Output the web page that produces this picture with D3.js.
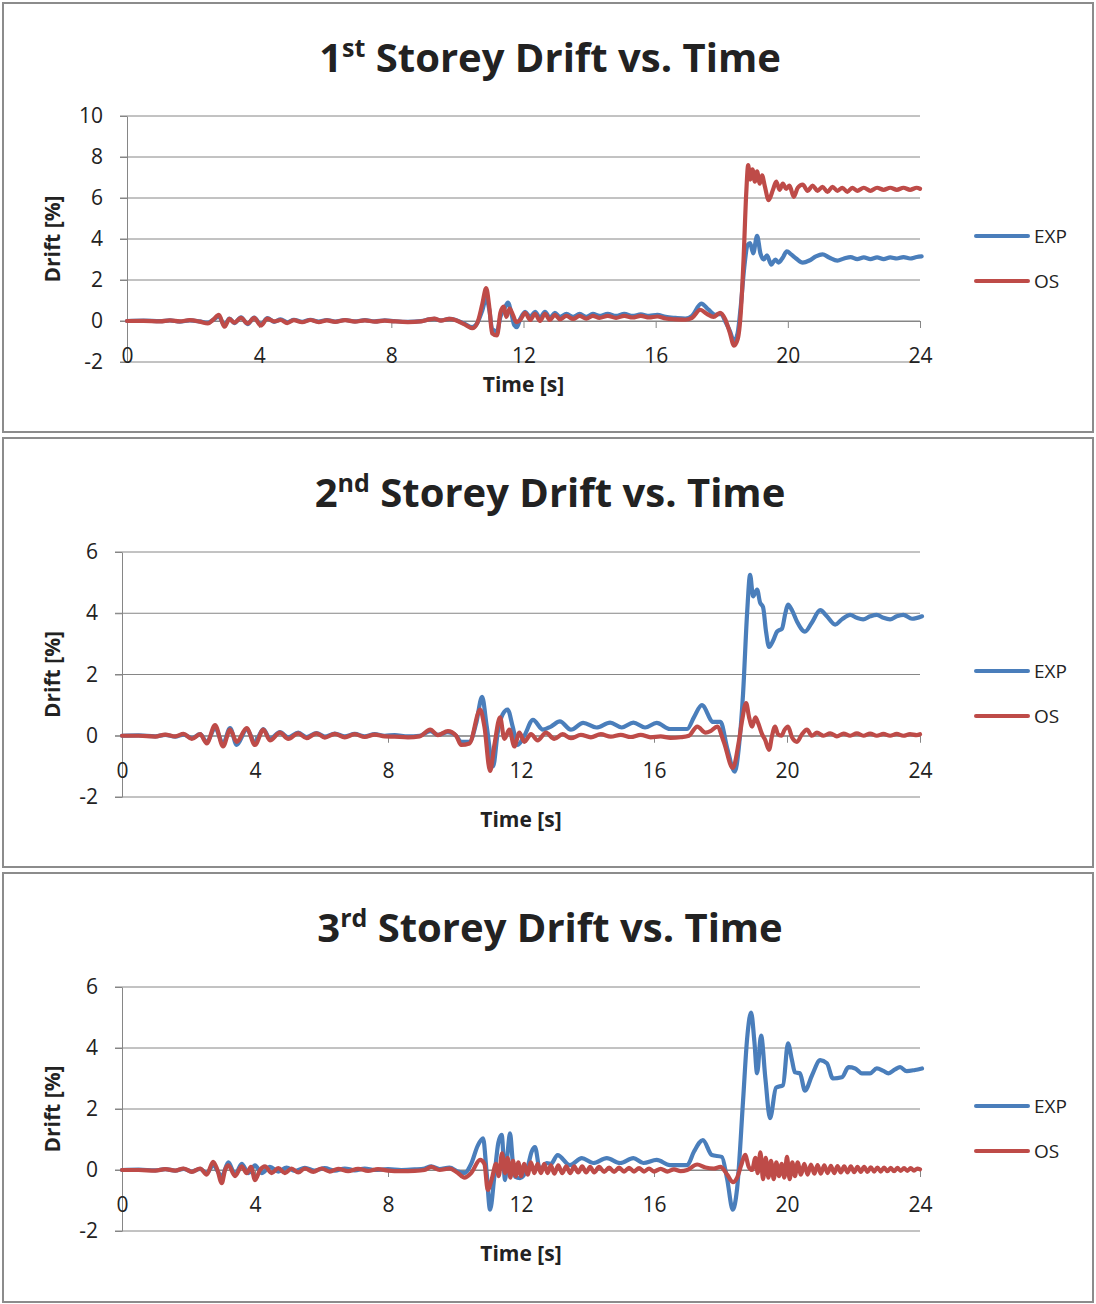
<!DOCTYPE html>
<html>
<head>
<meta charset="utf-8">
<script src="https://cdn.jsdelivr.net/npm/d3@7"></script>
<style>
  body { margin: 0; background: #fff; }
  svg text { font-family: "Open Sans", "Noto Sans", sans-serif; fill: #222; }
</style>
</head>
<body>
<script>
// tick labels and names
const xTicks = [0, 4, 8, 12, 16, 20, 24];
const yTicks1 = [-2, 0, 2, 4, 6, 8, 10];
const yTicks23 = [-2, 0, 2, 4, 6];
const seriesNames = ["EXP", "OS"];
const storeyLabels = [["1", "st"], ["2", "nd"], ["3", "rd"]];

// [time s, drift %]
const exp1 = [[0,0],[0.5,0.02],[1,-0.01],[1.3,0.03],[1.6,-0.03],[1.9,0.03],[2.2,-0.02],[2.45,-0.08],[2.6,0.05],[2.78,0.22],[2.95,-0.2],[3.1,0.12],[3.25,-0.1],[3.45,0.18],[3.65,-0.15],[3.85,0.17],[4.05,-0.18],[4.25,0.14],[4.45,-0.04],[4.65,0.08],[4.85,-0.06],[5.05,0.06],[5.3,-0.04],[5.55,0.06],[5.8,-0.03],[6.05,0.05],[6.3,-0.03],[6.6,0.05],[6.9,-0.02],[7.2,0.04],[7.5,-0.02],[7.8,0.03],[8.1,-0.01],[8.5,-0.04],[8.9,-0.01],[9.15,0.08],[9.3,0.1],[9.5,0.03],[9.75,0.1],[9.95,0.05],[10.2,-0.12],[10.45,-0.3],[10.6,-0.1],[10.75,0.5],[10.87,1.1],[10.97,0.5],[11.05,-0.4],[11.2,-0.5],[11.3,0.2],[11.42,0.6],[11.53,0.9],[11.63,0.4],[11.72,-0.2],[11.8,-0.3],[11.9,0.1],[12.05,0.45],[12.2,0.2],[12.35,0.45],[12.5,0.15],[12.65,0.45],[12.8,0.15],[12.95,0.4],[13.1,0.2],[13.3,0.35],[13.5,0.2],[13.7,0.35],[13.9,0.2],[14.1,0.35],[14.3,0.25],[14.55,0.35],[14.8,0.25],[15.05,0.35],[15.3,0.25],[15.55,0.32],[15.8,0.25],[16.05,0.3],[16.3,0.2],[16.6,0.15],[16.9,0.12],[17.1,0.25],[17.38,0.85],[17.6,0.55],[17.8,0.3],[17.98,0.35],[18.1,0.0],[18.25,-0.5],[18.37,-1.0],[18.48,-0.6],[18.58,0.8],[18.68,2.6],[18.78,3.7],[18.86,3.8],[18.95,3.3],[19.07,4.15],[19.17,3.3],[19.27,3.0],[19.37,3.2],[19.5,2.75],[19.62,3.0],[19.72,2.85],[19.85,3.1],[19.97,3.4],[20.1,3.25],[20.25,3.05],[20.45,2.85],[20.65,2.95],[20.85,3.15],[21.05,3.25],[21.25,3.1],[21.5,2.95],[21.7,3.05],[21.9,3.12],[22.1,3.02],[22.3,3.1],[22.5,3.02],[22.7,3.1],[22.9,3.02],[23.1,3.1],[23.3,3.05],[23.5,3.12],[23.7,3.05],[23.9,3.12],[24.05,3.15]];
const os1 = [[0,0],[0.5,0.01],[1,-0.02],[1.3,0.03],[1.6,-0.02],[1.9,0.04],[2.2,-0.03],[2.45,-0.12],[2.6,0.05],[2.78,0.3],[2.95,-0.28],[3.1,0.1],[3.25,-0.08],[3.45,0.15],[3.65,-0.12],[3.85,0.15],[4.05,-0.22],[4.25,0.12],[4.45,-0.02],[4.65,0.05],[4.85,-0.1],[5.05,0.04],[5.3,-0.06],[5.55,0.05],[5.8,-0.05],[6.05,0.03],[6.3,-0.04],[6.6,0.04],[6.9,-0.03],[7.2,0.03],[7.5,-0.03],[7.8,0.02],[8.1,-0.02],[8.5,-0.05],[8.9,-0.02],[9.15,0.08],[9.3,0.12],[9.5,0.02],[9.75,0.1],[9.95,0.04],[10.2,-0.15],[10.45,-0.35],[10.6,-0.1],[10.75,0.8],[10.87,1.6],[10.97,0.6],[11.05,-0.6],[11.2,-0.7],[11.3,0.4],[11.4,0.7],[11.48,0.2],[11.58,0.6],[11.68,0.3],[11.78,-0.05],[11.9,0.05],[12.05,0.4],[12.2,0.05],[12.35,0.35],[12.5,0.0],[12.65,0.35],[12.8,0.05],[12.95,0.3],[13.1,0.08],[13.3,0.25],[13.5,0.1],[13.7,0.25],[13.9,0.12],[14.1,0.25],[14.3,0.15],[14.55,0.25],[14.8,0.15],[15.05,0.25],[15.3,0.17],[15.55,0.25],[15.8,0.17],[16.05,0.22],[16.3,0.12],[16.6,0.08],[16.9,0.06],[17.1,0.15],[17.35,0.55],[17.55,0.35],[17.75,0.2],[17.95,0.4],[18.1,0.1],[18.25,-0.6],[18.37,-1.2],[18.48,-0.9],[18.58,0.5],[18.66,3.0],[18.74,6.2],[18.8,7.6],[18.86,6.9],[18.93,7.4],[19.0,6.8],[19.07,7.3],[19.15,6.7],[19.22,7.1],[19.3,6.6],[19.42,5.9],[19.55,6.4],[19.65,6.8],[19.75,6.4],[19.85,6.7],[19.95,6.45],[20.05,6.6],[20.18,6.05],[20.3,6.5],[20.45,6.65],[20.6,6.35],[20.75,6.6],[20.9,6.35],[21.05,6.55],[21.2,6.3],[21.35,6.55],[21.5,6.35],[21.65,6.5],[21.8,6.3],[21.95,6.5],[22.1,6.35],[22.3,6.5],[22.5,6.35],[22.7,6.5],[22.9,6.4],[23.1,6.5],[23.3,6.4],[23.5,6.5],[23.7,6.4],[23.9,6.5],[24,6.45]];

const exp2 = [[0,0],[0.5,0.01],[1,-0.02],[1.3,0.03],[1.6,-0.03],[1.85,0.04],[2.1,-0.08],[2.35,0.05],[2.55,-0.2],[2.8,0.25],[3.04,-0.25],[3.25,0.25],[3.45,-0.3],[3.75,0.2],[4.0,-0.2],[4.25,0.22],[4.45,-0.1],[4.75,0.12],[5.0,-0.05],[5.3,0.1],[5.55,-0.04],[5.85,0.09],[6.1,-0.03],[6.4,0.07],[6.7,-0.02],[7.0,0.06],[7.3,-0.02],[7.6,0.05],[7.9,0.0],[8.2,0.02],[8.6,-0.02],[8.95,0.0],[9.27,0.15],[9.5,0.03],[9.8,0.12],[10.05,0.0],[10.2,-0.2],[10.45,-0.2],[10.65,0.4],[10.83,1.27],[10.97,0.3],[11.16,-1.0],[11.3,0.1],[11.45,0.7],[11.6,0.85],[11.75,0.3],[11.9,-0.3],[12.1,0.0],[12.36,0.52],[12.66,0.2],[12.9,0.3],[13.17,0.47],[13.5,0.2],[13.87,0.42],[14.27,0.27],[14.68,0.43],[15.03,0.27],[15.38,0.43],[15.73,0.27],[16.08,0.42],[16.48,0.22],[17.0,0.22],[17.2,0.6],[17.44,1.0],[17.78,0.45],[18.0,0.45],[18.2,-0.4],[18.43,-1.17],[18.55,-0.4],[18.68,1.4],[18.8,4.0],[18.89,5.25],[18.98,4.55],[19.1,4.77],[19.19,4.35],[19.28,4.2],[19.37,3.4],[19.46,2.9],[19.58,3.1],[19.7,3.4],[19.85,3.5],[19.95,4.0],[20.03,4.28],[20.15,4.1],[20.3,3.73],[20.54,3.4],[20.75,3.7],[21.0,4.1],[21.2,3.9],[21.45,3.63],[21.65,3.8],[21.9,3.95],[22.1,3.85],[22.29,3.8],[22.5,3.9],[22.7,3.95],[22.9,3.85],[23.1,3.8],[23.3,3.9],[23.5,3.95],[23.76,3.82],[24.06,3.9]];
const os2 = [[0,0],[0.5,0.0],[1,-0.03],[1.3,0.04],[1.6,-0.02],[1.85,0.06],[2.1,-0.1],[2.35,0.05],[2.55,-0.25],[2.8,0.35],[3.04,-0.35],[3.25,0.2],[3.45,-0.2],[3.75,0.25],[4.0,-0.3],[4.25,0.2],[4.45,-0.15],[4.75,0.1],[5.0,-0.1],[5.3,0.08],[5.55,-0.08],[5.85,0.08],[6.1,-0.06],[6.4,0.06],[6.7,-0.05],[7.0,0.05],[7.3,-0.04],[7.6,0.04],[7.9,-0.02],[8.2,-0.03],[8.6,-0.05],[8.95,-0.02],[9.27,0.2],[9.5,0.02],[9.8,0.15],[10.05,0.0],[10.2,-0.3],[10.45,-0.25],[10.77,0.85],[10.9,0.3],[11.07,-1.15],[11.2,-0.3],[11.37,0.6],[11.5,-0.1],[11.65,0.2],[11.8,-0.35],[11.95,0.1],[12.1,-0.2],[12.3,0.05],[12.5,-0.15],[12.75,0.1],[13.0,-0.1],[13.25,0.05],[13.5,-0.08],[13.8,0.03],[14.1,-0.05],[14.4,0.05],[14.7,-0.03],[15.0,0.03],[15.3,-0.04],[15.6,0.03],[15.9,-0.05],[16.2,-0.02],[16.5,-0.07],[16.8,-0.05],[17.05,0.0],[17.3,0.3],[17.55,0.1],[17.7,0.15],[17.9,0.3],[18.1,-0.2],[18.37,-1.05],[18.55,-0.2],[18.65,0.5],[18.77,1.07],[18.86,0.6],[18.95,0.3],[19.05,0.6],[19.13,0.42],[19.25,0.05],[19.34,-0.13],[19.46,-0.46],[19.55,0.0],[19.64,0.3],[19.73,0.05],[19.83,0.0],[19.93,0.2],[20.03,0.3],[20.15,-0.05],[20.3,-0.2],[20.45,0.05],[20.6,0.2],[20.75,0.0],[20.9,0.1],[21.1,0.0],[21.3,0.08],[21.5,-0.02],[21.7,0.07],[21.9,0.0],[22.1,0.08],[22.3,0.0],[22.5,0.07],[22.7,0.0],[22.9,0.06],[23.1,0.0],[23.3,0.06],[23.5,0.0],[23.7,0.05],[23.9,0.02],[24,0.05]];

const exp3 = [[0,0],[0.5,0.01],[1,-0.01],[1.3,0.03],[1.6,-0.02],[1.85,0.04],[2.1,-0.05],[2.35,0.04],[2.55,-0.1],[2.74,0.15],[3.0,-0.2],[3.2,0.25],[3.4,-0.15],[3.6,0.2],[3.8,-0.1],[4.0,0.15],[4.2,-0.1],[4.45,0.1],[4.7,-0.05],[4.95,0.08],[5.2,-0.03],[5.5,0.07],[5.8,-0.02],[6.1,0.06],[6.4,-0.02],[6.7,0.05],[7.0,-0.01],[7.3,0.05],[7.6,0.0],[8.0,0.03],[8.4,0.0],[8.8,0.02],[9.1,0.05],[9.3,0.12],[9.55,0.03],[9.85,0.08],[10.1,-0.05],[10.3,-0.1],[10.5,0.2],[10.7,0.8],[10.86,1.04],[10.96,0.0],[11.07,-1.3],[11.2,-0.2],[11.32,0.9],[11.42,1.15],[11.52,-0.33],[11.6,0.6],[11.67,1.2],[11.75,0.3],[11.82,-0.22],[11.97,-0.27],[12.2,0.1],[12.32,0.6],[12.42,0.75],[12.57,0.0],[12.78,0.23],[12.9,0.2],[13.1,0.49],[13.47,0.16],[13.83,0.39],[14.17,0.23],[14.58,0.39],[14.98,0.23],[15.38,0.39],[15.68,0.23],[16.08,0.33],[16.48,0.16],[17.0,0.16],[17.2,0.6],[17.47,0.98],[17.74,0.49],[18.04,0.43],[18.2,-0.3],[18.37,-1.3],[18.5,-0.6],[18.68,2.3],[18.8,4.3],[18.92,5.16],[19.02,4.2],[19.1,3.17],[19.22,4.41],[19.35,3.0],[19.49,1.7],[19.67,2.7],[19.88,2.78],[20.03,4.15],[20.15,3.6],[20.24,3.2],[20.39,3.17],[20.54,2.6],[20.75,3.1],[21.0,3.6],[21.2,3.5],[21.38,3.0],[21.65,3.04],[21.85,3.37],[22.05,3.33],[22.25,3.17],[22.5,3.17],[22.7,3.33],[22.9,3.25],[23.05,3.17],[23.25,3.3],[23.4,3.37],[23.6,3.24],[23.85,3.28],[24.06,3.33]];
const os3 = [[0,0],[0.5,0.0],[1,-0.02],[1.3,0.03],[1.6,-0.02],[1.85,0.05],[2.1,-0.06],[2.35,0.05],[2.55,-0.15],[2.74,0.27],[2.87,0.0],[3.0,-0.43],[3.1,0.0],[3.2,0.15],[3.4,-0.2],[3.6,0.12],[3.75,-0.1],[3.88,0.1],[4.0,-0.33],[4.15,0.0],[4.3,0.12],[4.5,-0.1],[4.7,0.06],[4.9,-0.1],[5.1,0.05],[5.3,-0.08],[5.5,0.05],[5.75,-0.06],[6.0,0.05],[6.25,-0.05],[6.5,0.04],[6.8,-0.04],[7.1,0.04],[7.4,-0.03],[7.7,0.03],[8.0,-0.02],[8.4,-0.04],[8.8,-0.03],[9.1,0.0],[9.3,0.1],[9.55,0.0],[9.85,0.05],[10.1,-0.1],[10.3,-0.25],[10.5,-0.1],[10.77,0.33],[10.9,0.2],[11.0,-0.65],[11.12,-0.3],[11.25,0.2],[11.33,-0.2],[11.43,0.55],[11.52,-0.1],[11.6,0.4],[11.68,-0.25],[11.76,0.3],[11.84,-0.2],[11.92,0.25],[12.0,-0.2],[12.1,0.2],[12.2,-0.15],[12.3,0.25],[12.4,-0.1],[12.5,0.2],[12.6,-0.1],[12.7,0.2],[12.8,-0.1],[12.9,0.15],[13.0,-0.12],[13.12,0.15],[13.24,-0.1],[13.36,0.12],[13.48,-0.1],[13.6,0.12],[13.72,-0.08],[13.84,0.12],[13.96,-0.08],[14.08,0.1],[14.2,-0.08],[14.35,0.1],[14.5,-0.06],[14.65,0.08],[14.8,-0.06],[14.95,0.08],[15.1,-0.05],[15.25,0.07],[15.4,-0.05],[15.55,0.06],[15.7,-0.05],[15.85,0.05],[16.0,-0.05],[16.2,0.04],[16.4,-0.05],[16.6,0.02],[16.8,-0.04],[17.0,0.0],[17.3,0.18],[17.55,0.08],[17.8,0.05],[18.0,0.1],[18.2,-0.15],[18.37,-0.4],[18.5,-0.25],[18.62,0.15],[18.74,0.5],[18.85,0.1],[18.95,0.0],[19.05,0.4],[19.12,-0.1],[19.2,0.58],[19.28,-0.3],[19.36,0.4],[19.44,-0.25],[19.52,0.3],[19.6,-0.3],[19.68,0.25],[19.76,-0.2],[19.84,0.2],[19.92,-0.25],[20.0,0.43],[20.08,-0.3],[20.16,0.25],[20.24,-0.2],[20.32,0.25],[20.42,-0.15],[20.52,0.2],[20.62,-0.15],[20.72,0.18],[20.82,-0.12],[20.92,0.16],[21.02,-0.12],[21.12,0.15],[21.22,-0.1],[21.32,0.14],[21.42,-0.1],[21.52,0.13],[21.62,-0.08],[21.72,0.12],[21.82,-0.08],[21.92,0.12],[22.02,-0.07],[22.12,0.1],[22.22,-0.06],[22.32,0.1],[22.42,-0.06],[22.52,0.09],[22.62,-0.05],[22.72,0.08],[22.82,-0.05],[22.92,0.08],[23.02,-0.04],[23.12,0.07],[23.22,-0.04],[23.32,0.07],[23.42,-0.03],[23.52,0.06],[23.62,-0.03],[23.72,0.06],[23.82,-0.02],[23.92,0.05],[24,0.02]];

var colors = {EXP: "#4a7ebb", OS: "#be4b48"};
var gridColor = "#868686";

var panels = [
  {top: 3,   x0: 127, yTop: 116,  yBot: 362,  yDom: [-2, 10], yTicks: yTicks1,  data: [exp1, os1]},
  {top: 438, x0: 122, yTop: 552,  yBot: 797,  yDom: [-2, 6],  yTicks: yTicks23, data: [exp2, os2]},
  {top: 873, x0: 122, yTop: 987,  yBot: 1231, yDom: [-2, 6],  yTicks: yTicks23, data: [exp3, os3]}
];

var svg = d3.select("body").append("svg")
    .attr("width", 1096)
    .attr("height", 1304);

// plain hyphen for negatives, like the source
function fmt(d) { return String(d); }

panels.forEach(function(p, i) {
  var g = svg.append("g");

  // frame
  g.append("rect")
      .attr("x", 3).attr("y", p.top)
      .attr("width", 1090).attr("height", 429)
      .attr("fill", "#fff")
      .attr("stroke", "#8c8c8c")
      .attr("stroke-width", 2);

  var x = d3.scaleLinear().domain([0, 24]).range([p.x0, 920]);
  var y = d3.scaleLinear().domain(p.yDom).range([p.yBot, p.yTop]);

  // horizontal gridlines
  g.append("g").selectAll("line")
    .data(p.yTicks)
    .enter().append("line")
      .attr("x1", p.x0 - 7).attr("x2", 920)
      .attr("y1", function(d) { return y(d); })
      .attr("y2", function(d) { return y(d); })
      .attr("stroke", gridColor)
      .attr("stroke-width", 1);

  // y axis
  var yAxis = g.append("g")
      .attr("transform", "translate(" + p.x0 + ",0)")
      .call(d3.axisLeft(y).tickValues(p.yTicks).tickFormat(fmt).tickSize(7).tickPadding(17).tickSizeOuter(0));
  yAxis.selectAll("path, line").attr("stroke", gridColor);
  yAxis.selectAll("text")
      .style("font-size", "21px")
      .style("font-family", "'Open Sans', sans-serif")
      .attr("fill", "#222");

  // x axis at zero
  var xAxis = g.append("g")
      .attr("transform", "translate(0," + y(0) + ")")
      .call(d3.axisBottom(x).tickValues(xTicks).tickFormat(fmt).tickSize(7).tickPadding(20).tickSizeOuter(0));
  xAxis.selectAll("path, line").attr("stroke", gridColor);
  xAxis.selectAll("text")
      .style("font-size", "21px")
      .style("font-family", "'Open Sans', sans-serif")
      .attr("fill", "#222");

  // series
  var line = d3.line()
      .x(function(d) { return x(d[0]); })
      .y(function(d) { return y(d[1]); })
      .curve(d3.curveMonotoneX);

  p.data.forEach(function(s, k) {
    g.append("path")
        .datum(s)
        .attr("d", line)
        .attr("fill", "none")
        .attr("stroke", colors[seriesNames[k]])
        .attr("stroke-width", 4.2)
        .attr("stroke-linejoin", "round")
        .attr("stroke-linecap", "round");
  });

  // title
  var t = g.append("text")
      .attr("x", 550).attr("y", p.top + 69)
      .attr("text-anchor", "middle")
      .style("font-size", "40px")
      .style("font-weight", "bold");
  t.append("tspan").text(storeyLabels[i][0]);
  t.append("tspan").attr("dy", -15).style("font-size", "25px").text(storeyLabels[i][1]);
  t.append("tspan").attr("dy", 15).text(" Storey Drift vs. Time");

  // axis titles
  g.append("text")
      .attr("x", (p.x0 + 920) / 2).attr("y", p.yBot + 30)
      .attr("text-anchor", "middle")
      .style("font-size", "21px")
      .style("font-weight", "bold")
      .text("Time [s]");

  g.append("text")
      .attr("transform", "translate(60," + (p.yTop + p.yBot) / 2 + ") rotate(-90)")
      .attr("text-anchor", "middle")
      .style("font-size", "21px")
      .style("font-weight", "bold")
      .text("Drift [%]");

  // legend
  seriesNames.forEach(function(name, k) {
    var ly = p.top + 233 + k * 45;
    g.append("line")
        .attr("x1", 976).attr("x2", 1028)
        .attr("y1", ly).attr("y2", ly)
        .attr("stroke", colors[name])
        .attr("stroke-width", 4)
        .attr("stroke-linecap", "round");
    g.append("text")
        .attr("x", 1034).attr("y", ly + 7)
        .style("font-size", "19px")
        .text(name);
  });
});
</script>
</body>
</html>
